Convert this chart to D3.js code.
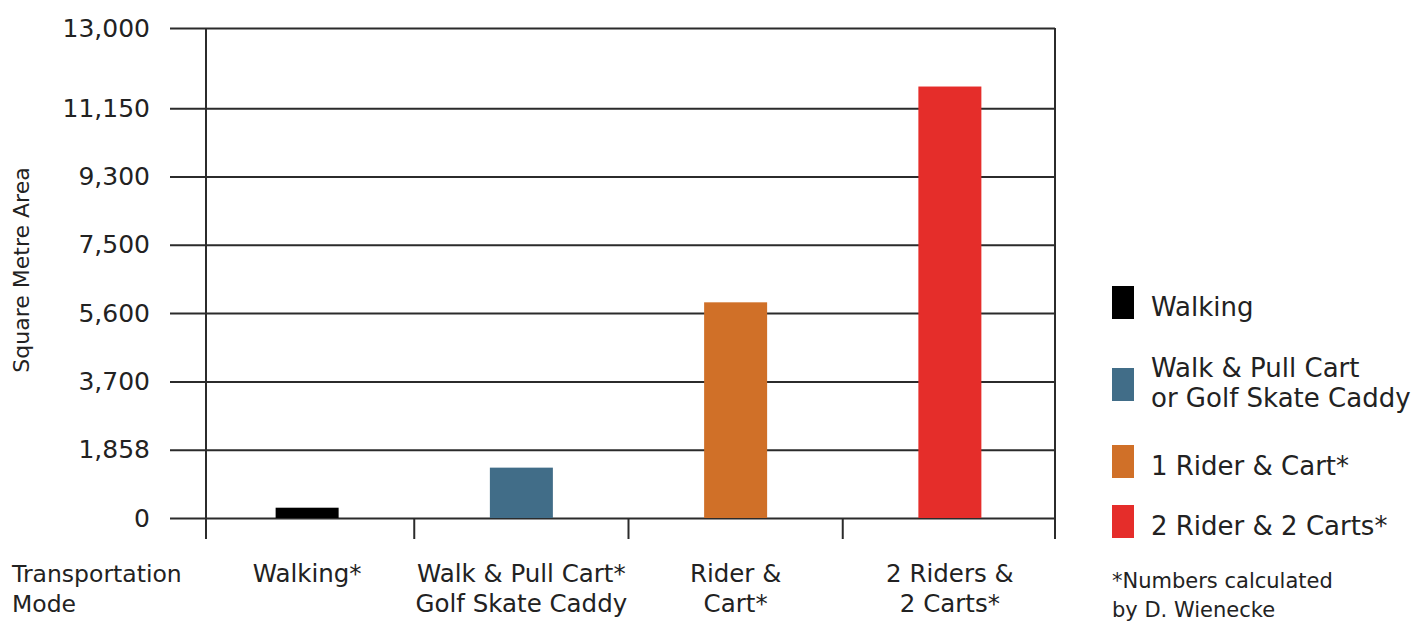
<!DOCTYPE html>
<html>
<head>
<meta charset="utf-8">
<script src="https://cdn.jsdelivr.net/npm/d3@7"></script>
<style>
  body { margin: 0; background: #fff; }
  svg { font-family: "DejaVu Sans", sans-serif; }
  .ylab text { font-size: 25px; fill: #222; }
  .xlab { font-size: 24.5px; fill: #222; }
  .leg { font-size: 26px; fill: #222; }
</style>
</head>
<body>
<div id="chart-area"></div>
<script>
// DATA
const categories = ["Walking", "Walk & Pull Cart", "Rider & Cart", "2 Riders & 2 Carts"];
const areaValues = [280, 1370, 5900, 11650];
const barColors = ["#000000", "#416d88", "#d07028", "#e52d2a"];
const categoryLabels = [["Walking*"], ["Walk & Pull Cart*", "Golf Skate Caddy"], ["Rider &", "Cart*"], ["2 Riders &", "2 Carts*"]];
const yTicks = [0, 1858, 3700, 5600, 7500, 9300, 11150, 13000];
const legendLabels = [["Walking"], ["Walk & Pull Cart", "or Golf Skate Caddy"], ["1 Rider & Cart*"], ["2 Rider & 2 Carts*"]];
const footnote = ["*Numbers calculated", "by D. Wienecke"];

// CHART AREA
let margin = { top: 28, right: 365, bottom: 104, left: 206 },
  width = 1420 - margin.left - margin.right,
  height = 622 - margin.top - margin.bottom;

let svg = d3.select("#chart-area")
  .append("svg")
  .attr("width", 1420)
  .attr("height", 622)
  .append("g")
  .attr("transform", "translate(" + margin.left + "," + margin.top + ")");

// SCALES - ticks evenly spaced, the top one sits at the frame
let step = 68.3;
let y = d3.scaleLinear()
  .domain(yTicks)
  .range(yTicks.map(function(d, i) {
    return i < yTicks.length - 1 ? height - i * step : 0;
  }));

let x = d3.scaleBand()
  .domain(categories)
  .range([-6, width + 2])
  .paddingInner(0);

let lineColor = "#2b2b2b";

// Y AXIS + GRID
let yAxis = d3.axisLeft(y)
  .tickValues(yTicks)
  .tickSizeInner(-(width + 36))
  .tickSizeOuter(0)
  .tickPadding(20)
  .tickFormat(d3.format(","));

svg.append("g")
  .attr("class", "ylab")
  .attr("transform", "translate(-36,0)")
  .call(yAxis)
  .attr("font-family", null)
  .attr("font-size", null)
  .call(function(g) { g.select(".domain").remove(); })
  .call(function(g) {
    g.selectAll(".tick line").attr("stroke", lineColor).attr("stroke-width", 2);
    g.selectAll(".tick text").attr("fill", "#222");
  });

// BARS
let barW = 63;
svg.selectAll(".bar")
  .data(categories)
  .enter()
  .append("rect")
  .attr("class", "bar")
  .attr("x", function(d) { return x(d) + x.bandwidth() / 2 - barW / 2; })
  .attr("y", function(d, i) { return y(areaValues[i]); })
  .attr("width", barW)
  .attr("height", function(d, i) { return y(0) - y(areaValues[i]); })
  .attr("fill", function(d, i) { return barColors[i]; });

// FRAME + BAND TICKS
let bounds = [0].concat(categories.slice(1).map(function(d) { return x(d); })).concat([width]);
svg.selectAll(".vline")
  .data(bounds)
  .enter()
  .append("line")
  .attr("x1", function(d) { return d; })
  .attr("x2", function(d) { return d; })
  .attr("y1", function(d, i) { return (i === 0 || i === bounds.length - 1) ? 0 : height; })
  .attr("y2", height + 21)
  .attr("stroke", lineColor)
  .attr("stroke-width", 2);

// X LABELS
let xl = svg.selectAll(".xlab")
  .data(categories)
  .enter()
  .append("text")
  .attr("class", "xlab")
  .attr("text-anchor", "middle")
  .attr("x", function(d) { return x(d) + x.bandwidth() / 2; })
  .attr("y", height + 64);

xl.selectAll("tspan")
  .data(function(d, i) { return categoryLabels[i]; })
  .enter()
  .append("tspan")
  .attr("x", function() { return d3.select(this.parentNode).attr("x"); })
  .attr("dy", function(d, i) { return i === 0 ? 0 : 30; })
  .text(function(d) { return d; });

svg.append("text")
  .attr("class", "xlab")
  .style("font-size", "23.5px")
  .attr("x", 12 - margin.left)
  .attr("y", height + 64)
  .text("Transportation");
svg.append("text")
  .attr("class", "xlab")
  .style("font-size", "23.5px")
  .attr("x", 12 - margin.left)
  .attr("y", height + 94)
  .text("Mode");

// Y TITLE
svg.append("text")
  .attr("transform", "rotate(-90)")
  .attr("x", -242)
  .attr("y", 29 - margin.left)
  .style("text-anchor", "middle")
  .style("font-size", "22px")
  .attr("fill", "#222")
  .text("Square Metre Area");

// LEGEND
let legendTop = [258, 340, 417, 477];
let legend = svg.append("g")
  .attr("transform", "translate(" + (1112 - margin.left) + ",0)");

legendLabels.forEach(function(lines, i) {
  let g = legend.append("g").attr("transform", "translate(0," + (legendTop[i]) + ")");
  g.append("rect")
    .attr("width", 22)
    .attr("height", 33)
    .attr("fill", barColors[i]);
  let first = lines.length > 1 ? 9 : 30;
  lines.forEach(function(t, j) {
    g.append("text")
      .attr("class", "leg")
      .attr("x", 39)
      .attr("y", first + j * 30)
      .text(t);
  });
});

footnote.forEach(function(t, j) {
  legend.append("text")
    .attr("class", "leg")
    .style("font-size", "21px")
    .attr("x", 0)
    .attr("y", 560 + j * 29)
    .text(t);
});
</script>
</body>
</html>
